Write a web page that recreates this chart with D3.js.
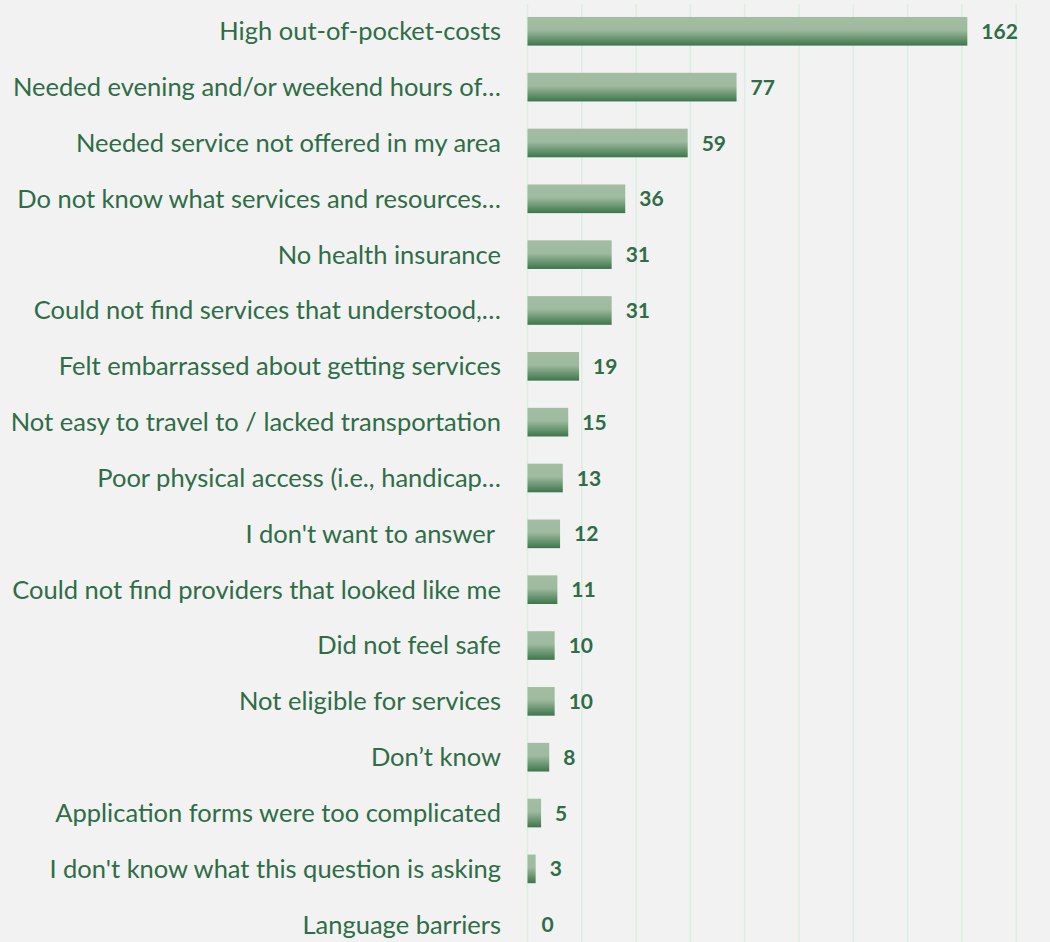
<!DOCTYPE html>
<html><head><meta charset="utf-8">
<script src="https://cdn.jsdelivr.net/npm/d3@7"></script>
<style>
html,body{margin:0;padding:0;background:#f2f2f2;}
svg{display:block;}
</style></head>
<body>
<script>
const categories = [
  "High out-of-pocket-costs",
  "Needed evening and/or weekend hours of…",
  "Needed service not offered in my area",
  "Do not know what services and resources…",
  "No health insurance",
  "Could not find services that understood,…",
  "Felt embarrassed about getting services",
  "Not easy to travel to / lacked transportation",
  "Poor physical access (i.e., handicap…",
  "I don't want to answer ",
  "Could not find providers that looked like me",
  "Did not feel safe",
  "Not eligible for services",
  "Don’t know",
  "Application forms were too complicated",
  "I don't know what this question is asking",
  "Language barriers"
];
const values = [162, 77, 59, 36, 31, 31, 19, 15, 13, 12, 11, 10, 10, 8, 5, 3, 0];
const tickValues = [0, 20, 40, 60, 80, 100, 120, 140, 160, 180, 200];

const W = 1050, H = 942;
const svg = d3.select("body").append("svg").attr("width", W).attr("height", H);
svg.append("rect").attr("width", W).attr("height", H).attr("fill", "#f2f2f2");

const x = d3.scaleLinear().domain([0, 200]).range([527.5, 1070.5]);
const y = d3.scaleBand().domain(categories).range([3, 953]).paddingInner(0.487).paddingOuter(0.25);

const defs = svg.append("defs");
const grad = defs.append("linearGradient").attr("id", "barGrad")
  .attr("x1", 0).attr("y1", 0).attr("x2", 0).attr("y2", 1);
grad.append("stop").attr("offset", "0%").attr("stop-color", "#a2bda2");
grad.append("stop").attr("offset", "45%").attr("stop-color", "#9fbb9f");
grad.append("stop").attr("offset", "100%").attr("stop-color", "#3d764b");

// gridlines
svg.append("g").selectAll("line").data(tickValues).join("line")
  .attr("x1", d => x(d)).attr("x2", d => x(d))
  .attr("y1", 4).attr("y2", H)
  .attr("stroke", "#dbeee1").attr("stroke-width", 1.5);

// bars
svg.append("g").selectAll("rect").data(values).join("rect")
  .attr("x", x(0))
  .attr("y", (d, i) => y(categories[i]))
  .attr("width", d => x(d) - x(0))
  .attr("height", y.bandwidth())
  .attr("fill", "url(#barGrad)");

// category labels
svg.append("g").selectAll("text").data(categories).join("text")
  .attr("x", 501)
  .attr("y", d => y(d) + y.bandwidth() / 2)
  .attr("dy", "0.35em")
  .attr("text-anchor", "end")
  .style("white-space", "pre")
  .attr("font-family", "Lato, 'Open Sans', sans-serif")
  .attr("font-size", 25.5)
  .attr("fill", "#2e6d45")
  .text(d => d);

// value labels
svg.append("g").selectAll("text").data(values).join("text")
  .attr("x", d => x(d) + 14)
  .attr("y", (d, i) => y(categories[i]) + y.bandwidth() / 2)
  .attr("dy", "0.36em")
  .attr("font-family", "Lato, 'Open Sans', sans-serif")
  .attr("font-size", 21)
  .attr("font-weight", "bold")
  .attr("fill", "#2e6d45")
  .text(d => d);
</script>
</body></html>
